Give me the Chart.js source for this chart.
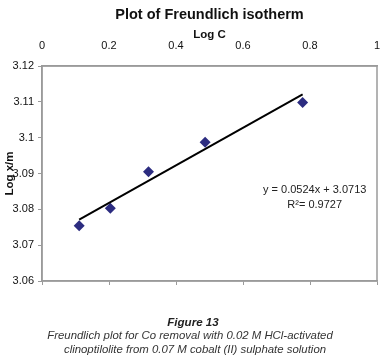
<!DOCTYPE html>
<html>
<head>
<meta charset="utf-8">
<script src="https://cdn.jsdelivr.net/npm/chart.js@4/dist/chart.umd.min.js"></script>
<style>
  html, body { margin: 0; padding: 0; background: #fff; }
  #wrap { position: relative; width: 384px; height: 359px; overflow: hidden; }
  #c { position: absolute; left: 0; top: 0; }
  .cap { position: absolute; left: 0; width: 386px; text-align: center; font-family: "Liberation Sans", Arial, sans-serif; font-style: italic; font-size: 11.4px; color: #333; line-height: 13px; white-space: nowrap; }
</style>
</head>
<body>
<div id="wrap">
  <canvas id="c" width="384" height="359"></canvas>
  <div class="cap" style="top:315px;font-weight:bold;font-size:11.6px;color:#222;">Figure 13</div>
  <div class="cap" style="top:329px;left:-3px;">Freundlich plot for Co removal with 0.02 M HCl-activated</div>
  <div class="cap" style="top:343px;left:2px;">clinoptilolite from 0.07 M cobalt (II) sulphate solution</div>
</div>
<script>
// ---- data ----
const logC   = [0.111, 0.204, 0.318, 0.487, 0.778];
const logXm  = [3.0754, 3.0803, 3.0905, 3.0987, 3.1098];
const xTicks = [0, 0.2, 0.4, 0.6, 0.8, 1];
const yTicks = [3.06, 3.07, 3.08, 3.09, 3.1, 3.11, 3.12];
const trendSlope = 0.0524;
const trendIntercept = 3.0713;
const trendX = [0.111, 0.778];
const eqText = 'y = 0.0524x + 3.0713';
const r2Text = 'R\u00B2= 0.9727';

const FONT = '"Liberation Sans", Arial, sans-serif';
const trendData = trendX.map(x => ({x: x, y: trendSlope * x + trendIntercept}));
const pts = logC.map((x, i) => ({x: x, y: logXm[i]}));

const frame = {
  id: 'frame',
  afterDraw(chart, args, opts) {
    const {ctx, chartArea: a, scales} = chart;
    ctx.save();
    ctx.strokeStyle = '#9a9a9a';
    ctx.lineWidth = 1.5;
    ctx.strokeRect(a.left, a.top, a.right - a.left, a.bottom - a.top);
    ctx.fillStyle = '#222';
    ctx.font = '11px ' + FONT;
    ctx.textAlign = 'center';
    ctx.textBaseline = 'middle';
    const ex = scales.x.getPixelForValue(opts.x);
    ctx.fillText(eqText, ex, scales.y.getPixelForValue(opts.y1));
    ctx.fillText(r2Text, ex, scales.y.getPixelForValue(opts.y2));
    ctx.restore();
  }
};

new Chart(document.getElementById('c'), {
  type: 'scatter',
  data: {
    datasets: [
      {
        data: trendData, showLine: true, borderColor: '#000', borderWidth: 2,
        pointRadius: 0, fill: false, xAxisID: 'x', yAxisID: 'y'
      },
      {
        data: pts, pointStyle: 'rectRot', pointRadius: 5.5,
        backgroundColor: '#2C2C80', borderColor: '#2C2C80', borderWidth: 0,
        xAxisID: 'x', yAxisID: 'y'
      }
    ]
  },
  options: {
    responsive: false,
    animation: false,
    events: [],
    layout: { padding: { left: 0, right: 7, top: 0, bottom: 74 } },
    plugins: {
      legend: { display: false },
      tooltip: { enabled: false },
      title: {
        display: true, text: 'Plot of Freundlich isotherm', fullSize: false,
        color: '#111', font: { family: FONT, size: 14.5, weight: 'bold' },
        padding: { top: 6, bottom: 0 }
      },
      frame: { x: 0.814, y1: 3.0853, y2: 3.0813 }
    },
    scales: {
      x: {
        type: 'linear', position: 'top', min: 0, max: 1,
        afterBuildTicks: s => { s.ticks = xTicks.map(v => ({value: v})); },
        afterFit: s => { s.height = 42.6; },
        ticks: { color: '#111', font: { family: FONT, size: 11 }, padding: 0,
                 callback: v => String(v) },
        grid: { display: true, drawOnChartArea: false, drawTicks: true, tickLength: 13.6,
                tickColor: 'rgba(0,0,0,0)' },
        border: { display: true, color: '#9a9a9a', width: 1.5 },
        title: { display: true, text: 'Log C', color: '#111',
                 font: { family: FONT, size: 11.5, weight: 'bold' },
                 padding: { top: 5, bottom: 0 } }
      },
      x2: {
        type: 'linear', position: 'bottom', min: 0, max: 1,
        afterBuildTicks: s => { s.ticks = xTicks.map(v => ({value: v})); },
        afterFit: s => { s.height = 4; },
        ticks: { display: false },
        grid: { drawOnChartArea: false, drawTicks: true, tickLength: 4, color: '#9a9a9a', lineWidth: 1 },
        border: { display: true, color: '#9a9a9a', width: 1.5 }
      },
      y: {
        type: 'linear', position: 'left', min: 3.06, max: 3.12,
        afterBuildTicks: s => { s.ticks = yTicks.map(v => ({value: v})); },
        afterFit: s => { s.width = 42; },
        ticks: { color: '#111', font: { family: FONT, size: 11 }, padding: 4,
                 callback: v => String(Math.round(v * 100) / 100) },
        grid: { drawOnChartArea: false, drawTicks: true, tickLength: 4, color: '#9a9a9a' },
        border: { display: true, color: '#9a9a9a', width: 1.5 },
        title: { display: true, text: 'Log x/m', color: '#111',
                 font: { family: FONT, size: 11.5, weight: 'bold' },
                 padding: { top: 3, bottom: 0 } }
      }
    }
  },
  plugins: [frame]
});
</script>
</body>
</html>
